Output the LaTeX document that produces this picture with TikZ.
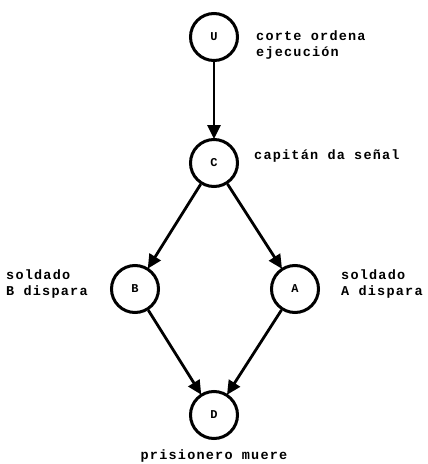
\documentclass[tikz,border=0pt]{standalone}
\usepackage{fontspec}
\setmonofont[LetterSpace=9]{Liberation Mono}
\usetikzlibrary{arrows.meta}
\begin{document}
\begin{tikzpicture}[x=1pt,y=-1pt,
  var/.style={circle,draw,line width=3pt,minimum size=47pt,inner sep=0pt,font=\ttfamily\bfseries\fontsize{12}{12}\selectfont},
  lbl/.style={font=\ttfamily\bfseries\fontsize{13.5}{16}\selectfont,align=left,inner sep=0pt},
  edge/.style={line width=2.8pt,-{Triangle[length=14pt,width=13pt]},shorten >=-1pt}]
\useasboundingbox (0,0) rectangle (428,464);
\node[var] (U) at (214,37) {U};
\node[var] (C) at (214,163) {C};
\node[var] (B) at (135,289) {B};
\node[var] (A) at (295,289) {A};
\node[var] (D) at (214,415) {D};
\node[lbl,anchor=west] (lu) at (256,45) {corte ordena\\ejecución};
\node[lbl,anchor=west] (lc) at (254,156) {capitán da señal};
\node[lbl,anchor=west] (lb) at (6,284) {soldado\\B dispara};
\node[lbl,anchor=west] (la) at (341,284) {soldado\\A dispara};
\node[lbl] (ld) at (214,456) {prisionero muere};
\draw[edge] (U) -- (C);
\draw[edge] (C) -- (B);
\draw[edge] (C) -- (A);
\draw[edge] (B) -- (D);
\draw[edge] (A) -- (D);
\end{tikzpicture}
\end{document}
